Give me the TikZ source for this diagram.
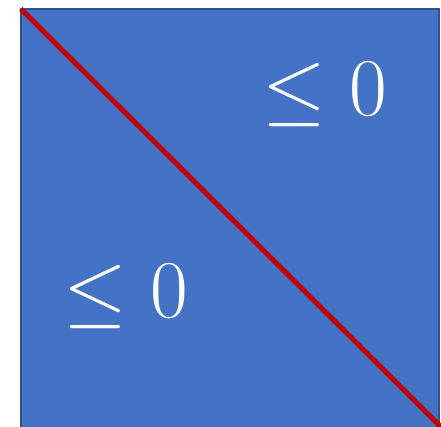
\RequirePackage{fix-cm}
\documentclass[tikz,border=0pt]{standalone}
\begin{document}
\begin{tikzpicture}[x=1pt,y=-1pt,
  sq/.style={fill={rgb,255:red,68;green,114;blue,196},draw={rgb,255:red,47;green,82;blue,143},line width=2pt},
  diag/.style={draw={rgb,255:red,192;green,0;blue,0},line width=5pt},
  lbl/.style={text=white,inner sep=0pt,font=\fontsize{82}{86}\selectfont}]
\useasboundingbox (0,0) rectangle (441,427);
\fill[white] (0,0) rectangle (441,427);
\path[sq] (21,9) rectangle (439,428);
\coordinate (tl) at (21,9);
\coordinate (br) at (441,427);
\draw[diag] (tl) -- (br);
\node[lbl] (up) at (325,95) {$\leq 0$};
\node[lbl] (lo) at (126,297) {$\leq 0$};
\end{tikzpicture}
\end{document}
